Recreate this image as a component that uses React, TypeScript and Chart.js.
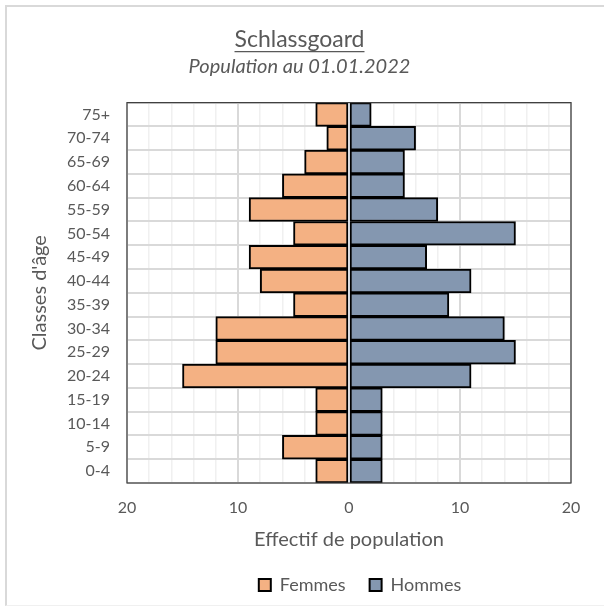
import React, { useEffect, useRef } from 'react';
import { Chart, registerables } from 'chart.js';

Chart.register(...registerables);

const ageGroups = ['0-4', '5-9', '10-14', '15-19', '20-24', '25-29', '30-34', '35-39', '40-44', '45-49', '50-54', '55-59', '60-64', '65-69', '70-74', '75+'];
const femmes = [3, 6, 3, 3, 15, 12, 12, 5, 8, 9, 5, 9, 6, 4, 2, 3];
const hommes = [3, 3, 3, 3, 11, 15, 14, 9, 11, 7, 15, 8, 5, 5, 6, 2];
const xMin = -20;
const xMax = 20;
const xStep = 2;
const xMajor = 10;

const titleText = 'Schlassgoard';
const subtitleText = 'Population au 01.01.2022';
const xTitle = 'Effectif de population';
const yTitle = "Classes d'âge";

const FONT = 'Lato, "Open Sans", sans-serif';
const TEXT = '#595959';
const TITLE_SIZE = 23;
const LEGEND_CENTER_X = 360;

const decorPlugin = {
  id: 'decor',
  afterLayout(chart: any) {
    const lg = chart.legend;
    if (!lg) return;
    const shift = LEGEND_CENTER_X - (lg.left + lg.right) / 2;
    lg.left += shift;
    lg.right += shift;
    if (lg.legendHitBoxes) lg.legendHitBoxes.forEach((b: any) => (b.left += shift));
  },
  afterDatasetsDraw(chart: any) {
    const { ctx, chartArea, scales } = chart;
    const x0 = scales.x.getPixelForValue(0);
    ctx.save();
    ctx.strokeStyle = '#d6dae0';
    ctx.lineWidth = 2;
    ctx.beginPath();
    ctx.moveTo(x0, chartArea.top);
    ctx.lineTo(x0, chartArea.bottom);
    ctx.stroke();
    ctx.strokeStyle = '#404040';
    ctx.lineWidth = 1.2;
    ctx.strokeRect(chartArea.left, chartArea.top, chartArea.right - chartArea.left, chartArea.bottom - chartArea.top);
    ctx.restore();
  },
  afterDraw(chart: any) {
    const tb = chart.titleBlock;
    if (!tb) return;
    const ctx = chart.ctx;
    ctx.save();
    ctx.font = `${TITLE_SIZE}px ${FONT}`;
    const w = ctx.measureText(titleText).width;
    const cx = tb.left + tb.width / 2;
    const y = tb.top + tb.height - 2;
    ctx.strokeStyle = TEXT;
    ctx.lineWidth = 1.3;
    ctx.beginPath();
    ctx.moveTo(cx - w / 2, y);
    ctx.lineTo(cx + w / 2, y);
    ctx.stroke();
    ctx.restore();
  },
};

export default function App() {
  const ref = useRef<HTMLCanvasElement>(null);
  useEffect(() => {
    if (!ref.current) return;
    const chart = new Chart(ref.current, {
      type: 'bar',
      data: {
        labels: ageGroups,
        datasets: [
          {
            label: 'Femmes',
            data: femmes.map((v) => -v),
            backgroundColor: '#F4B183',
            borderColor: '#000000',
            borderWidth: 2,
            borderSkipped: false,
            barPercentage: 1,
            categoryPercentage: 1,
          },
          {
            label: 'Hommes',
            data: hommes,
            backgroundColor: '#8497B0',
            borderColor: '#000000',
            borderWidth: 2,
            borderSkipped: false,
            barPercentage: 1,
            categoryPercentage: 1,
          },
        ],
      },
      options: {
        indexAxis: 'y',
        responsive: false,
        animation: false,
        layout: { padding: { left: 28, right: 33, top: 20, bottom: 4 } },
        scales: {
          x: {
            stacked: true,
            min: xMin,
            max: xMax,
            border: { display: false },
            afterFit: (axis: any) => {
              axis.height = 69;
            },
            grid: {
              drawTicks: false,
              color: (c: any) => (c.tick && c.tick.value % xMajor === 0 ? '#d9d9d9' : '#f0f0f0'),
              lineWidth: (c: any) => (c.tick && c.tick.value % xMajor === 0 ? 2 : 1.5),
            },
            ticks: {
              stepSize: xStep,
              autoSkip: false,
              maxRotation: 0,
              padding: 15,
              color: TEXT,
              font: { family: FONT, size: 16 },
              callback: (v: any) => (Number(v) % xMajor === 0 ? String(Math.abs(Number(v))) : ''),
            },
            title: {
              display: true,
              text: xTitle,
              color: TEXT,
              font: { family: FONT, size: 20 },
              padding: { top: 10, bottom: 0 },
            },
          },
          y: {
            stacked: true,
            reverse: true,
            border: { display: false },
            grid: { drawTicks: false, color: '#d9d9d9', lineWidth: 2, offset: true },
            afterFit: (axis: any) => {
              axis.width = 99;
            },
            ticks: {
              autoSkip: false,
              padding: 17,
              color: TEXT,
              font: { family: FONT, size: 16 },
            },
            title: {
              display: true,
              text: yTitle,
              color: TEXT,
              font: { family: FONT, size: 20 },
              padding: { top: 0, bottom: 12 },
            },
          },
        },
        plugins: {
          title: {
            display: true,
            text: titleText,
            color: TEXT,
            font: { family: FONT, size: TITLE_SIZE, weight: 'normal' },
            padding: { top: 6, bottom: 0 },
          },
          subtitle: {
            display: true,
            text: subtitleText,
            color: TEXT,
            font: { family: FONT, size: 20, style: 'italic' },
            padding: { top: 1, bottom: 24 },
          },
          legend: {
            position: 'bottom',
            labels: {
              color: TEXT,
              font: { family: FONT, size: 18 },
              boxWidth: 12,
              boxHeight: 12,
              padding: 24,
            },
          },
          tooltip: { enabled: false },
        },
      },
      plugins: [decorPlugin],
    } as any);
    return () => chart.destroy();
  }, []);

  return (
    <div style={{ position: 'fixed', left: 0, top: 0, width: 604, height: 608, background: '#ffffff' }}>
      <div
        style={{
          position: 'absolute',
          left: 5,
          top: 5,
          width: 620,
          height: 601,
          borderLeft: '2px solid #d9d9d9',
          borderTop: '2px solid #d9d9d9',
          borderBottom: '1px solid #f0f0f0',
          boxSizing: 'border-box',
        }}
      />
      <canvas ref={ref} width={604} height={608} style={{ position: 'absolute', left: 0, top: 0 }} />
    </div>
  );
}
